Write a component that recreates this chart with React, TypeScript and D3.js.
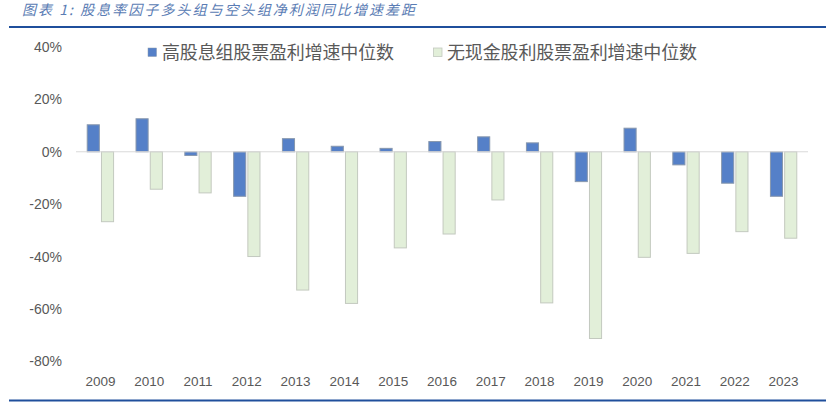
import * as d3 from "d3";

const years = ["2009", "2010", "2011", "2012", "2013", "2014", "2015", "2016", "2017", "2018", "2019", "2020", "2021", "2022", "2023"];
const highDiv = [10.3, 12.6, -1.4, -17.0, 5.0, 2.1, 1.3, 3.9, 5.7, 3.4, -11.4, 9.0, -5.0, -12.0, -17.0];
const noDiv = [-26.7, -14.3, -15.7, -40.0, -52.8, -57.9, -36.7, -31.4, -18.4, -57.7, -71.3, -40.3, -38.8, -30.5, -33.0];
const seriesNames = ["高股息组股票盈利增速中位数", "无现金股利股票盈利增速中位数"];
const yTicks = [40, 20, 0, -20, -40, -60, -80];
const title = "图表 1:  股息率因子多头组与空头组净利润同比增速差距";

const W = 826;
const H = 402;
const fills = ["#5580c8", "#e2efd9"];
const strokes = ["#8797ad", "#c3c9bf"];

const App = () => {
  const x0 = d3.scaleBand().domain(years).range([76, 808]).paddingInner(0.46).paddingOuter(0.23);
  const x1 = d3.scaleBand().domain(["a", "b"]).range([0, x0.bandwidth()]).paddingInner(0.15);
  const y = d3.scaleLinear().domain([-80, 40]).range([361.3, 47]);

  const rows = years.map((yr, i) => ({ yr, vals: [highDiv[i], noDiv[i]] }));

  return (
    <svg width={W} height={H} style={{ position: "absolute", left: 0, top: 0, background: "#fff" }}>
      <text x={22} y={15} fontSize={14} fontStyle="italic" fill="#5a7cb4"
        fontFamily="'Noto Sans CJK SC', sans-serif" textLength={393} lengthAdjust="spacing">
        {title}
      </text>
      <line x1={9} x2={W} y1={27} y2={27} stroke="#1f4f9c" strokeWidth={2} />
      <line x1={9} x2={W} y1={400.5} y2={400.5} stroke="#1f4f9c" strokeWidth={2} />

      {yTicks.map((t) => (
        <text key={t} x={62} y={y(t)} textAnchor="end" dominantBaseline="central"
          fontSize={14} fill="#595959" fontFamily="'Liberation Sans', Arial, sans-serif">
          {t + "%"}
        </text>
      ))}

      {rows.map((r) => (
        <g key={r.yr} transform={`translate(${x0(r.yr)},0)`}>
          {r.vals.map((v, j) => (
            <rect key={j}
              x={x1(j === 0 ? "a" : "b")}
              y={y(Math.max(0, v))}
              width={x1.bandwidth()}
              height={Math.abs(y(v) - y(0))}
              fill={fills[j]} stroke={strokes[j]} strokeWidth={1} />
          ))}
        </g>
      ))}

      <line x1={76} x2={808} y1={y(0)} y2={y(0)} stroke="#d9d9d9" strokeWidth={1} />

      {years.map((yr) => (
        <text key={yr} x={(x0(yr) ?? 0) + x0.bandwidth() / 2} y={386} textAnchor="middle"
          fontSize={13.5} fill="#595959" fontFamily="'Liberation Sans', Arial, sans-serif">
          {yr}
        </text>
      ))}

      <rect x={148} y={48} width={8.5} height={8.5} fill={fills[0]} stroke={strokes[0]} strokeWidth={0.5} />
      <text x={162} y={59} fontSize={18} fill="#595959" fontFamily="'Noto Sans CJK SC', sans-serif"
        textLength={232} lengthAdjust="spacing">
        {seriesNames[0]}
      </text>
      <rect x={433.5} y={48} width={8.5} height={8.5} fill={fills[1]} stroke={strokes[1]} strokeWidth={0.8} />
      <text x={447} y={59} fontSize={18} fill="#595959" fontFamily="'Noto Sans CJK SC', sans-serif"
        textLength={250} lengthAdjust="spacing">
        {seriesNames[1]}
      </text>
    </svg>
  );
};

export default App;
